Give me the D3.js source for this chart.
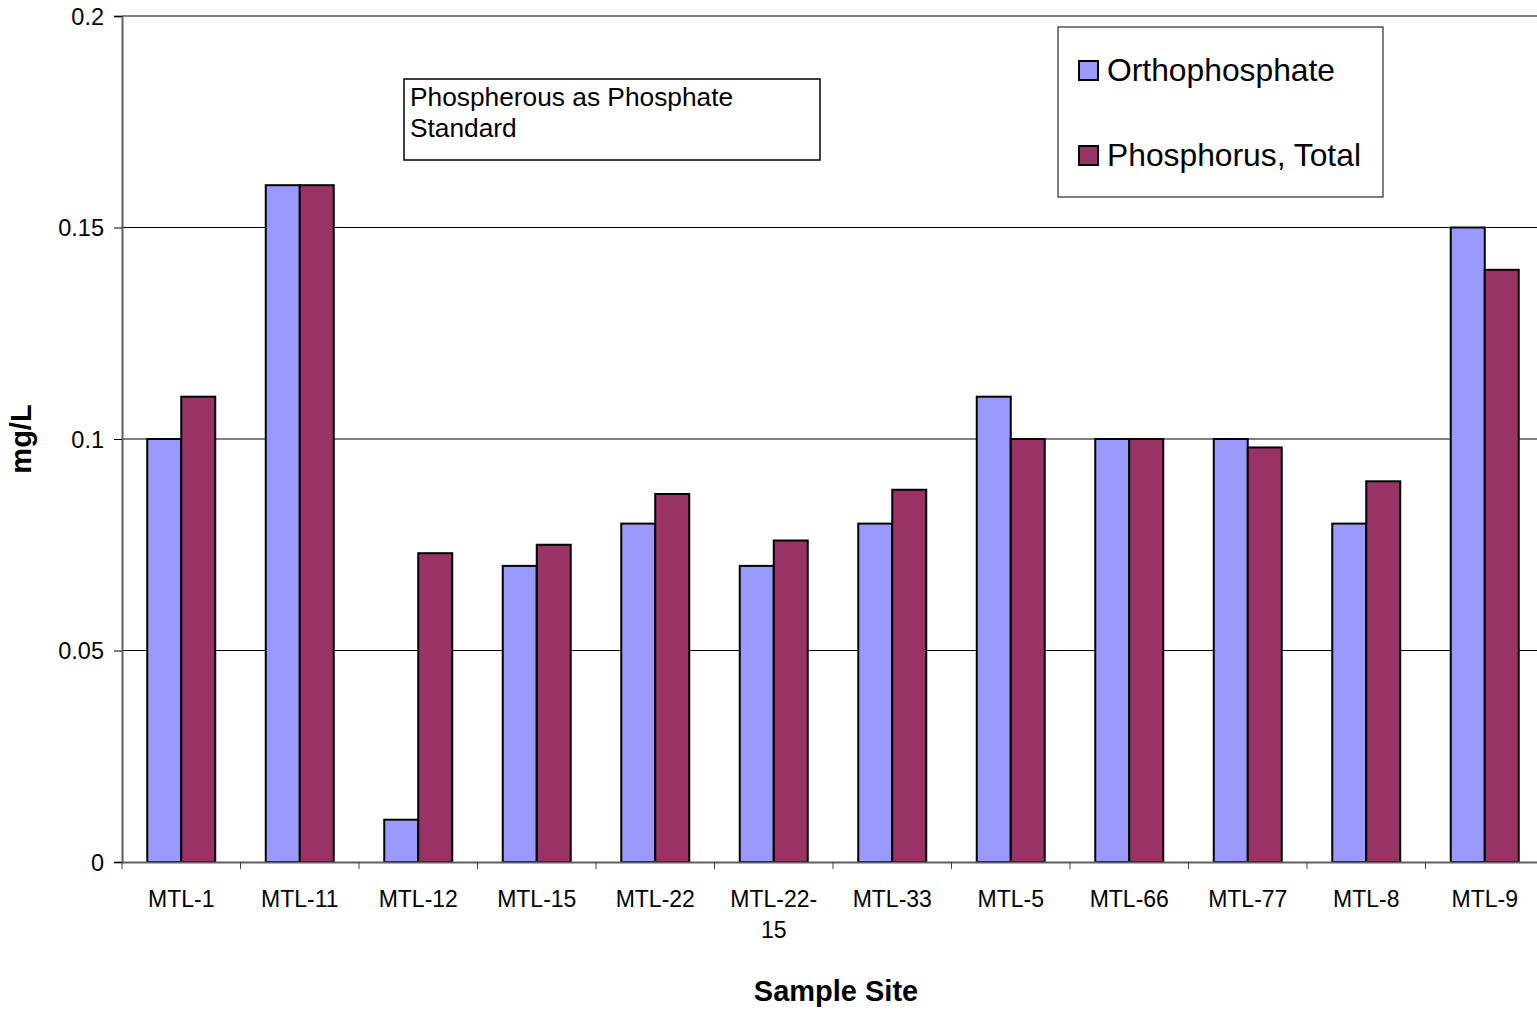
<!DOCTYPE html>
<html>
<head>
<meta charset="utf-8">
<script src="https://cdn.jsdelivr.net/npm/d3@7"></script>
<style>
  body { margin: 0; background: #fff; }
  svg { display: block; font-family: "Liberation Sans", Arial, sans-serif; }
</style>
</head>
<body>
<div id="chart"></div>
<script>
// Daten
var sites = ["MTL-1", "MTL-11", "MTL-12", "MTL-15", "MTL-22", "MTL-22-15",
             "MTL-33", "MTL-5", "MTL-66", "MTL-77", "MTL-8", "MTL-9"];
var seriesNames = ["Orthophosphate", "Phosphorus, Total"];
var orthophosphate = [0.10, 0.16, 0.01, 0.07, 0.08, 0.07, 0.08, 0.11, 0.10, 0.10, 0.08, 0.15];
var phosphorusTotal = [0.11, 0.16, 0.073, 0.075, 0.087, 0.076, 0.088, 0.10, 0.10, 0.098, 0.09, 0.14];
var yTicks = [0, 0.05, 0.1, 0.15, 0.2];
var seriesColors = ["#9999FF", "#993366"];
var noteText = ["Phospherous as Phosphate", "Standard"];

var width = 1537, height = 1012;
var plot = {left: 122, right: 1544, top: 16, bottom: 862};

var svg = d3.select("#chart").append("svg")
    .attr("width", width)
    .attr("height", height);

var x0 = d3.scaleBand().domain(sites).range([plot.left, plot.right]).padding(0);
var x1 = d3.scaleBand().domain(seriesNames).range([0, x0.bandwidth()])
    .paddingInner(0).paddingOuter(0.743);
var y = d3.scaleLinear().domain([0, 0.2]).range([plot.bottom, plot.top]);

// Gitterlinien
svg.append("g").selectAll("line")
    .data(yTicks.filter(function (d) { return d > 0 && d < 0.2; }))
    .enter().append("line")
    .attr("x1", plot.left).attr("x2", width)
    .attr("y1", function (d) { return y(d); })
    .attr("y2", function (d) { return y(d); })
    .attr("stroke", "#000").attr("stroke-width", 1);

// obere Rahmenlinie
svg.append("line")
    .attr("x1", plot.left).attr("x2", width)
    .attr("y1", y(0.2)).attr("y2", y(0.2))
    .attr("stroke", "#808080").attr("stroke-width", 2);

// Balken
var rows = sites.map(function (s, i) {
    return {site: s, values: [orthophosphate[i], phosphorusTotal[i]]};
});
var groups = svg.append("g").selectAll("g")
    .data(rows)
    .enter().append("g")
    .attr("transform", function (d) { return "translate(" + x0(d.site) + ",0)"; });
groups.selectAll("rect")
    .data(function (d) { return d.values.map(function (v, k) { return {key: seriesNames[k], value: v, k: k}; }); })
    .enter().append("rect")
    .attr("x", function (d) { return x1(d.key); })
    .attr("y", function (d) { return y(d.value); })
    .attr("width", x1.bandwidth())
    .attr("height", function (d) { return y(0) - y(d.value); })
    .attr("fill", function (d) { return seriesColors[d.k]; })
    .attr("stroke", "#000")
    .attr("stroke-width", 2);

// Y-Achse
var yAxis = svg.append("g")
    .attr("transform", "translate(" + plot.left + ",0)")
    .call(d3.axisLeft(y).tickValues(yTicks).tickSize(8).tickFormat(function (d) { return String(d); }));
yAxis.select(".domain").attr("stroke", "#606060").attr("stroke-width", 2);
yAxis.selectAll(".tick line").attr("stroke", "#000");
yAxis.selectAll(".tick text")
    .attr("x", -18).attr("dy", "0.35em")
    .attr("font-size", "23.5px").attr("fill", "#000")
    .attr("font-family", "'Liberation Sans', Arial, sans-serif");

// X-Achse
var xAxis = svg.append("g")
    .attr("transform", "translate(0," + plot.bottom + ")")
    .call(d3.axisBottom(x0).tickSize(0).tickFormat(""));
xAxis.select(".domain").attr("stroke", "#606060").attr("stroke-width", 2);
xAxis.selectAll(".tick").remove();

svg.append("g").selectAll("line")
    .data(sites)
    .enter().append("line")
    .attr("x1", function (d) { return x0(d); })
    .attr("x2", function (d) { return x0(d); })
    .attr("y1", plot.bottom).attr("y2", plot.bottom + 7)
    .attr("stroke", "#404040").attr("stroke-width", 1);

var xLabels = svg.append("g").selectAll("text")
    .data(sites)
    .enter().append("text")
    .attr("x", function (d) { return x0(d) + x0.bandwidth() / 2; })
    .attr("y", plot.bottom + 45)
    .attr("text-anchor", "middle")
    .attr("font-size", "23px")
    .text(function (d) { return d; });

// lange Beschriftungen am letzten Bindestrich umbrechen
xLabels.each(function (d) {
    var t = d3.select(this);
    if (this.getComputedTextLength() > 95) {
        var cut = d.lastIndexOf("-");
        var cx = t.attr("x");
        t.text(null);
        t.append("tspan").attr("x", cx).text(d.slice(0, cut + 1));
        t.append("tspan").attr("x", cx).attr("dy", 31).text(d.slice(cut + 1));
    }
});

// Achsentitel
svg.append("text")
    .attr("x", 836).attr("y", 1001)
    .attr("text-anchor", "middle")
    .attr("font-size", "29px").attr("font-weight", "bold")
    .text("Sample Site");
svg.append("text")
    .attr("transform", "translate(31," + 439 + ") rotate(-90)")
    .attr("text-anchor", "middle")
    .attr("font-size", "29px").attr("font-weight", "bold")
    .text("mg/L");

// Textfeld
svg.append("rect")
    .attr("x", 404).attr("y", 79).attr("width", 416).attr("height", 81)
    .attr("fill", "#fff").attr("stroke", "#000").attr("stroke-width", 1.5);
svg.append("g").selectAll("text")
    .data(noteText)
    .enter().append("text")
    .attr("x", 410)
    .attr("y", function (d, i) { return 106 + i * 31; })
    .attr("font-size", "26.3px")
    .text(function (d) { return d; });

// Legende
var legend = svg.append("g");
legend.append("rect")
    .attr("x", 1058).attr("y", 27).attr("width", 325).attr("height", 170)
    .attr("fill", "#fff").attr("stroke", "#000").attr("stroke-width", 1);
var items = legend.selectAll("g.item")
    .data(seriesNames)
    .enter().append("g")
    .attr("transform", function (d, i) { return "translate(1079," + (61 + i * 85) + ")"; });
items.append("rect")
    .attr("width", 19).attr("height", 19)
    .attr("fill", function (d, i) { return seriesColors[i]; })
    .attr("stroke", "#000").attr("stroke-width", 2);
items.append("text")
    .attr("x", 28).attr("y", 20)
    .attr("font-size", "31.8px")
    .text(function (d) { return d; });
</script>
</body>
</html>
